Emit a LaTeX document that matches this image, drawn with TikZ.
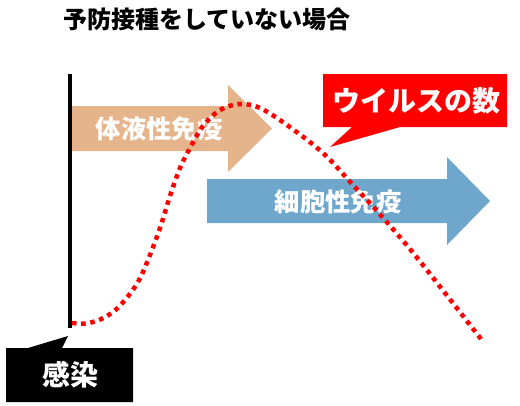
\documentclass[tikz,border=0pt]{standalone}
\usepackage{fontspec}
\newfontfamily\jp{Noto Sans CJK JP}
\definecolor{humoral}{HTML}{E6B48A}
\definecolor{cellular}{HTML}{6FA6CB}
\definecolor{virusred}{HTML}{FF0000}
\tikzset{
  ttl/.style={inner sep=0pt, text=black, font=\jp\bfseries\fontsize{18}{18}\selectfont},
  arrowlbl/.style={inner sep=0pt, text=white, font=\jp\bfseries\fontsize{19}{19}\selectfont},
  calloutlbl/.style={inner sep=0pt, text=white, font=\jp\bfseries\fontsize{21}{21}\selectfont},
  viruscurve/.style={line width=3.4pt, draw=virusred, dash pattern=on 3.4pt off 3.5pt},
  axisline/.style={line width=2.6pt, draw=black}
}
\begin{document}
\begin{tikzpicture}[x=0.75pt,y=-0.75pt]
\useasboundingbox (0,0) rectangle (520,405);
% title
\node[ttl] (title) at (207,19) {予防接種をしていない場合};
% time axis (infection moment)
\coordinate (axtop) at (70,74);
\coordinate (axbot) at (70,328);
\draw[axisline] (axtop) -- (axbot);
% humoral immunity arrow
\fill[humoral] (72,106) -- (228,106) -- (228,85) -- (272,128.5) -- (228,172) -- (228,151) -- (72,151) -- cycle;
\node[arrowlbl] (humtxt) at (159,129) {体液性免疫};
% cellular immunity arrow
\fill[cellular] (207,179) -- (447,179) -- (447,157) -- (490,201) -- (447,245) -- (447,223) -- (207,223) -- cycle;
\node[arrowlbl] (celtxt) at (338,202) {細胞性免疫};
% virus curve
\draw[viruscurve] plot[smooth, tension=0.55] coordinates {(72,323) (85,323.5) (99,320) (113,312) (125,300) (138,282) (148,260) (160,228) (170,196) (180,168) (190,148) (203,126) (220,110) (240,104) (260,108) (287,125) (323,153) (353,185) (377,211) (410,249) (445,293) (481,339)};
% virus callout
\fill[virusred] (323,74) -- (507,74) -- (507,127) -- (400,127) -- (330,147) -- (352,127) -- (323,127) -- cycle;
\node[calloutlbl] (virtxt) at (416,101) {ウイルスの数};
% infection callout
\fill[black] (6,348) -- (28,348) -- (68,336) -- (62,348) -- (133,348) -- (133,402) -- (6,402) -- cycle;
\node[calloutlbl] (inftxt) at (70,375) {感染};
\end{tikzpicture}
\end{document}
